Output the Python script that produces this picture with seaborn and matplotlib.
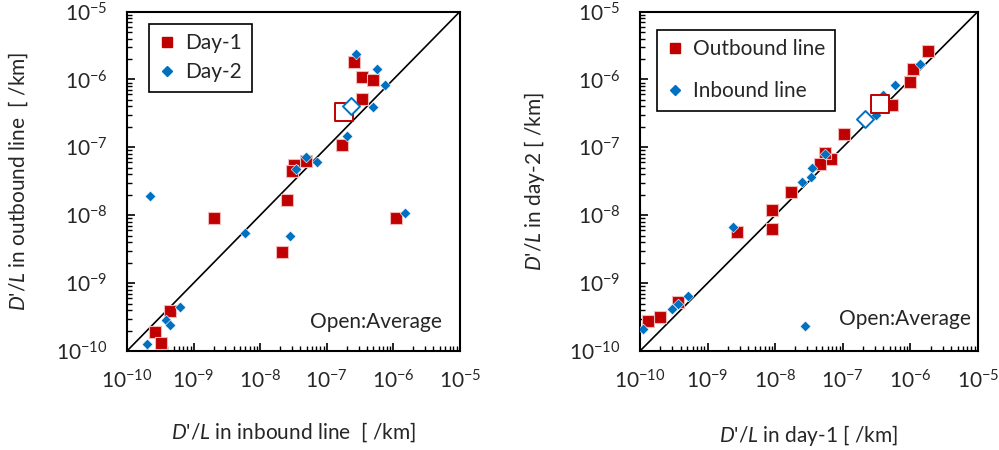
import matplotlib
matplotlib.use("Agg")
import matplotlib.pyplot as plt
import seaborn as sns
import pandas as pd
import numpy as np
from matplotlib.lines import Line2D
from matplotlib.ticker import LogLocator, NullFormatter, FixedLocator, FixedFormatter

# ---------------- data ----------------
# Left panel: x = D'/L inbound line, y = D'/L outbound line
left_day1_x = [2.6e-7, 3.4e-7, 4.9e-7, 3.4e-7, 1.7e-7, 4.8e-8, 3.2e-8, 3.0e-8, 2.5e-8,
               2.0e-9, 2.1e-8, 1.1e-6, 4.5e-10, 2.6e-10, 3.2e-10]
left_day1_y = [1.8e-6, 1.1e-6, 9.8e-7, 5.2e-7, 1.1e-7, 6.3e-8, 5.5e-8, 4.5e-8, 1.7e-8,
               9.1e-9, 2.9e-9, 9.1e-9, 3.9e-10, 1.9e-10, 1.3e-10]
left_day1_avg = (1.8e-7, 3.3e-7)
left_day2_x = [2.75e-7, 5.6e-7, 7.4e-7, 4.9e-7, 2.0e-7, 4.8e-8, 7.2e-8, 3.5e-8, 2.2e-10,
               6.0e-9, 2.8e-8, 1.5e-6, 6.3e-10, 3.8e-10, 4.4e-10, 2.0e-10]
left_day2_y = [2.4e-6, 1.4e-6, 8.3e-7, 3.9e-7, 1.45e-7, 7.2e-8, 6.0e-8, 4.8e-8, 1.95e-8,
               5.5e-9, 5.0e-9, 1.07e-8, 4.5e-10, 2.9e-10, 2.4e-10, 1.26e-10]
left_day2_avg = (2.3e-7, 4.1e-7)

# Right panel: x = D'/L day-1, y = D'/L day-2
right_out_x = [1.8e-6, 1.1e-6, 9.8e-7, 5.4e-7, 1.05e-7, 6.8e-8, 5.5e-8, 4.6e-8, 1.7e-8,
               9.1e-9, 9.1e-9, 2.7e-9, 3.7e-10, 1.95e-10, 1.3e-10]
right_out_y = [2.6e-6, 1.4e-6, 9.1e-7, 4.2e-7, 1.55e-7, 6.8e-8, 8.3e-8, 5.6e-8, 2.2e-8,
               1.2e-8, 6.2e-9, 5.6e-9, 5.2e-10, 3.2e-10, 2.8e-10]
right_out_avg = (3.6e-7, 4.3e-7)
right_in_x = [1.4e-6, 6.0e-7, 4.0e-7, 3.1e-7, 5.5e-8, 3.5e-8, 3.4e-8, 2.5e-8, 2.4e-9,
              5.2e-10, 3.6e-10, 3.0e-10, 1.1e-10, 2.8e-8]
right_in_y = [1.7e-6, 8.3e-7, 5.9e-7, 2.95e-7, 7.9e-8, 5.0e-8, 3.7e-8, 3.1e-8, 6.6e-9,
              6.5e-10, 4.9e-10, 4.1e-10, 2.1e-10, 2.3e-10]
right_in_avg = (2.1e-7, 2.6e-7)

decade_ticks = [1e-10, 1e-9, 1e-8, 1e-7, 1e-6, 1e-5]
decade_labels = [r"$10^{-10}$", r"$10^{-9}$", r"$10^{-8}$", r"$10^{-7}$", r"$10^{-6}$", r"$10^{-5}$"]

RED = "#C00000"
BLUE = "#0070C0"

# ---------------- style ----------------
sns.set_style("white")
plt.rcParams['font.family'] = ['Lato', 'DejaVu Sans']
plt.rcParams['mathtext.fontset'] = 'custom'
plt.rcParams['mathtext.rm'] = 'Lato'
plt.rcParams['mathtext.it'] = 'Lato:italic'
plt.rcParams['mathtext.default'] = 'regular'

FS = 15

fig = plt.figure(figsize=(9.99, 4.5), dpi=100)
axL = fig.add_axes([0.1271, 0.22, 0.3333, 0.7544])
axR = fig.add_axes([0.6406, 0.22, 0.3383, 0.7544])


def draw_panel(ax, rx, ry, ravg, bx, by, bavg, labels, xlabel, ylabel,
               legend_anchor, labelspacing, xlabelpad, ylabelpad, avg_pos):
    df_r = pd.DataFrame({"x": rx, "y": ry})
    df_b = pd.DataFrame({"x": bx, "y": by})
    ax.set_xscale("log")
    ax.set_yscale("log")
    ax.plot([1e-10, 1e-5], [1e-10, 1e-5], color="black", lw=1.2, zorder=1)
    sns.scatterplot(data=df_r, x="x", y="y", ax=ax, marker="s", s=66, color=RED,
                    edgecolor="#F2B8B8", linewidth=0.8, zorder=3, legend=False)
    sns.scatterplot(data=df_b, x="x", y="y", ax=ax, marker="D", s=30, color=BLUE,
                    edgecolor="white", linewidth=0.4, zorder=4, legend=False)
    sns.scatterplot(x=[ravg[0]], y=[ravg[1]], ax=ax, marker="s", s=160, color="white",
                    edgecolor=RED, linewidth=1.4, zorder=5, legend=False)
    sns.scatterplot(x=[bavg[0]], y=[bavg[1]], ax=ax, marker="D", s=75, color="white",
                    edgecolor=BLUE, linewidth=1.4, zorder=6, legend=False)
    ax.set_xlim(1e-10, 1e-5)
    ax.set_ylim(1e-10, 1e-5)
    for sp in ax.spines.values():
        sp.set_color("black")
        sp.set_linewidth(1.5)
    for axis in (ax.xaxis, ax.yaxis):
        axis.set_major_locator(FixedLocator(decade_ticks))
        axis.set_major_formatter(FixedFormatter(decade_labels))
        axis.set_minor_locator(LogLocator(base=10, subs=np.arange(2, 10), numticks=20))
        axis.set_minor_formatter(NullFormatter())
    ax.tick_params(which="major", direction="in", length=6, width=1.2, color="black",
                   labelsize=FS, bottom=True, left=True, top=False, right=False)
    ax.tick_params(axis="x", which="major", pad=13)
    ax.tick_params(axis="y", which="major", pad=14)
    ax.tick_params(which="minor", direction="in", length=3.5, width=1.0, color="black",
                   bottom=True, left=True, top=False, right=False)
    ax.set_xlabel(xlabel, fontsize=FS, labelpad=xlabelpad)
    ax.set_ylabel(ylabel, fontsize=FS, labelpad=ylabelpad)
    ax.text(avg_pos[0], avg_pos[1], "Open:Average", transform=ax.transAxes,
            ha="right", va="center", fontsize=FS)
    handles = [
        Line2D([], [], marker="s", ls="none", color=RED, markersize=7.5, markeredgecolor=RED),
        Line2D([], [], marker="D", ls="none", color=BLUE, markersize=5.5, markeredgecolor=BLUE),
    ]
    leg = ax.legend(handles, labels, loc="upper left", bbox_to_anchor=legend_anchor,
                    fontsize=FS, frameon=True, fancybox=False, edgecolor="black",
                    handlelength=0.8, handletextpad=0.5, labelspacing=labelspacing,
                    borderpad=0.45, borderaxespad=0, framealpha=1)
    leg.get_frame().set_linewidth(1.2)


draw_panel(axL, left_day1_x, left_day1_y, left_day1_avg,
           left_day2_x, left_day2_y, left_day2_avg,
           ["Day-1", "Day-2"],
           r"$\it{D}$'$\it{/L}$ in inbound line  [ /km]",
           r"$\it{D}$'$\it{/L}$ in outbound line  [ /km]",
           (0.066, 0.963), 0.42, 20, 19, (0.945, 0.085))
draw_panel(axR, right_out_x, right_out_y, right_out_avg,
           right_in_x, right_in_y, right_in_avg,
           ["Outbound line", "Inbound line"],
           r"$\it{D}$'$\it{/L}$ in day-1 [ /km]",
           r"$\it{D}$'$\it{/L}$ in day-2 [ /km]",
           (0.05, 0.9455), 1.05, 22, 16, (0.98, 0.095))

fig.savefig("out.png", dpi=100)
